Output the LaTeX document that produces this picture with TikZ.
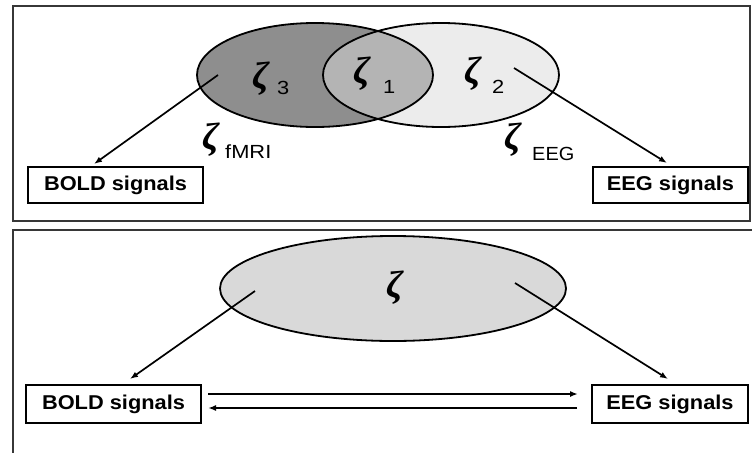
\documentclass[tikz,border=0pt]{standalone}
\usepackage{fontspec}
\setmainfont{Liberation Sans}
\newfontfamily\zetafont{Liberation Serif}
\usetikzlibrary{arrows.meta,shapes.geometric}
\definecolor{setdark}{RGB}{142,142,142}
\definecolor{setmid}{RGB}{180,180,180}
\definecolor{setlight}{RGB}{236,236,236}
\definecolor{setone}{RGB}{217,217,217}
\definecolor{framegray}{RGB}{55,55,55}
\newcommand{\widetext}[2]{\scalebox{#1}[1]{#2}}
\tikzset{
  frameline/.style={draw=framegray, line width=2.4pt},
  outline/.style={draw=black, line width=1.8pt},
  sigbox/.style={draw=black, line width=2pt, inner sep=0pt, font=\fontsize{20}{24}\selectfont\bfseries},
  zeta/.style={inner sep=0pt, font=\zetafont\fontsize{38}{42}\selectfont\bfseries\itshape},
  sub/.style={inner sep=0pt, anchor=base west, font=\fontsize{19}{22}\selectfont},
  conn/.style={line width=1.7pt, -{Latex[length=8pt,width=6pt]}},
}
\begin{document}
\begin{tikzpicture}[x=1pt,y=-1pt]
\useasboundingbox (0,0) rectangle (752,453);
\fill[white] (0,0) rectangle (752,453);
% panels
\draw[frameline] (13,6) rectangle (750,221);
\draw[frameline] (752,230) -- (13,230) -- (13,453);
% top Venn
\fill[setdark] (315,75) ellipse [x radius=118pt, y radius=52pt];
\fill[setlight] (441,75) ellipse [x radius=118pt, y radius=52pt];
\begin{scope}
  \clip (315,75) ellipse [x radius=118pt, y radius=52pt];
  \fill[setmid] (441,75) ellipse [x radius=118pt, y radius=52pt];
\end{scope}
\draw[outline] (315,75) ellipse [x radius=118pt, y radius=52pt];
\draw[outline] (441,75) ellipse [x radius=118pt, y radius=52pt];
\node[zeta] (z3) at (261,79) {ζ};
\node[sub] (s3) at (277,94) {\widetext{1.15}{3}};
\node[zeta] (z1) at (362,74) {ζ};
\node[sub] (s1) at (383,93) {\widetext{1.15}{1}};
\node[zeta] (z2) at (473,74) {ζ};
\node[sub] (s2) at (492,93) {\widetext{1.15}{2}};
\node[zeta] (zf) at (211,140) {ζ};
\node[sub] (sf) at (225,158) {\widetext{1.15}{fMRI}};
\node[zeta] (ze) at (513,140) {ζ};
\node[sub] (se) at (532,160) {\widetext{1.05}{EEG}};
\node[sigbox, minimum width=175pt, minimum height=36pt] (bold1) at (115.5,185) {\widetext{1.09}{BOLD signals}};
\node[sigbox, minimum width=155pt, minimum height=36pt] (eeg1) at (670.5,185) {\widetext{1.09}{EEG signals}};
\coordinate (c3) at (218,75);
\coordinate (c2) at (514,68);
\draw[conn] (c3) -- ([xshift=67pt,yshift=2pt]bold1.north west);
\draw[conn] (c2) -- ([xshift=75pt,yshift=3pt]eeg1.north west);
% bottom panel
\node[ellipse, fill=setone, draw=black, line width=1.8pt, minimum width=346pt, minimum height=105pt, inner sep=0pt] (zall) at (393,288.5) {};
\node[zeta] (z0) at (395,288) {ζ};
\node[sigbox, minimum width=175pt, minimum height=38pt] (bold2) at (113.5,404) {\widetext{1.09}{BOLD signals}};
\node[sigbox, minimum width=156pt, minimum height=38pt] (eeg2) at (670,404) {\widetext{1.09}{EEG signals}};
\coordinate (cl) at (255,291);
\coordinate (cr) at (515,283);
\draw[conn] (cl) -- ([xshift=105pt,yshift=5pt]bold2.north west);
\draw[conn] (cr) -- ([xshift=77pt,yshift=5pt]eeg2.north west);
\draw[conn] ([xshift=6pt,yshift=10pt]bold2.east) -- ([xshift=-13pt,yshift=10pt]eeg2.west);
\draw[conn] ([xshift=-14pt,yshift=-4pt]eeg2.west) -- ([xshift=6pt,yshift=-4pt]bold2.east);
\end{tikzpicture}
\end{document}
